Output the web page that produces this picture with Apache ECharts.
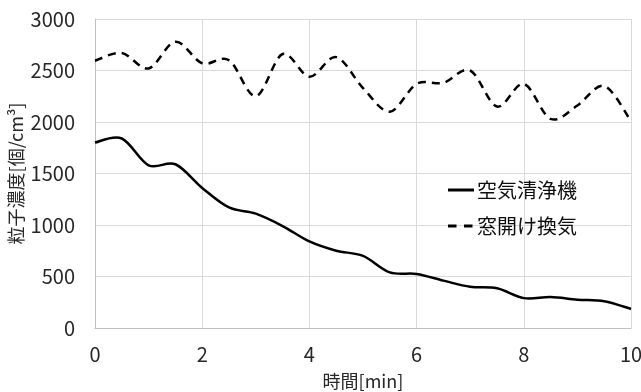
<!DOCTYPE html>
<html>
<head>
<meta charset="utf-8">
<script src="https://cdn.jsdelivr.net/npm/echarts@6/dist/echarts.min.js"></script>
<style>
html,body{margin:0;padding:0;background:#fff;}
#c{width:641px;height:392px;}
</style>
</head>
<body>
<div id="c"></div>
<script>
const times = [0,0.5,1,1.5,2,2.5,3,3.5,4,4.5,5,5.5,6,6.5,7,7.5,8,8.5,9,9.5,10];
const airPurifier = [1800,1840,1580,1590,1360,1170,1110,990,840,750,700,540,525,460,400,385,290,300,275,260,185];
const windowVent = [2595,2670,2520,2780,2570,2600,2250,2660,2440,2630,2330,2100,2370,2380,2500,2150,2370,2030,2160,2350,2010];
const seriesNames = ['空気清浄機','窓開け換気'];
const xTitle = '時間[min]';
const yTitle = '粒子濃度[個/cm³]';

const font = "'Noto Sans CJK JP', sans-serif";
const chart = echarts.init(document.getElementById('c'), null, {renderer:'canvas'});
const pair = arr => times.map((t,i)=>[t,arr[i]]);

// Smoothed (Catmull-Rom style, like a spreadsheet "smoothed line") path through the data,
// with every point placed by the chart's own coordinate system (api.coord).
function smoothRender(values, dash) {
  return function(params, api) {
    if (params.dataIndex !== 0) return null;
    const pts = times.map((t,i)=>api.coord([t, values[i]]));
    const n = pts.length;
    let d = 'M' + pts[0][0] + ',' + pts[0][1];
    for (let i = 0; i < n - 1; i++) {
      const p0 = pts[i-1] || pts[i], p1 = pts[i], p2 = pts[i+1], p3 = pts[i+2] || pts[i+1];
      const c1x = p1[0] + (p2[0]-p0[0])/6, c1y = p1[1] + (p2[1]-p0[1])/6;
      const c2x = p2[0] - (p3[0]-p1[0])/6, c2y = p2[1] - (p3[1]-p1[1])/6;
      d += ' C' + c1x + ',' + c1y + ' ' + c2x + ',' + c2y + ' ' + p2[0] + ',' + p2[1];
    }
    return {
      type:'path',
      shape:{pathData:d},
      style:{fill:'none', stroke:'#000', lineWidth:2.5, lineDash:dash, lineCap:'butt', lineJoin:'round'}
    };
  };
}

chart.setOption({
  animation:false,
  backgroundColor:'#fff',
  textStyle:{fontFamily:font},
  grid:{left:95,right:10,top:19,bottom:64,outerBoundsMode:'none',containLabel:false},
  legend:{
    orient:'vertical', left:443, top:175, itemWidth:26, itemHeight:3, itemGap:16,
    textStyle:{fontFamily:font,fontSize:20,color:'#0d0d0d',padding:[0,0,0,-2]},
    itemStyle:{borderWidth:0},
    data:[
      {name:seriesNames[0], icon:'path://M0,0H26V3H0Z'},
      {name:seriesNames[1], icon:'path://M0,0H8.5V3H0Z M16,0H24.5V3H16Z M26,0H26V3H26Z'}
    ]
  },
  xAxis:{
    type:'value', min:0, max:10, interval:2,
    name:xTitle, nameLocation:'middle', nameGap:44, nameMoveOverlap:false,
    nameTextStyle:{fontFamily:font,fontSize:18,color:'#262626'},
    axisLine:{show:true,lineStyle:{color:'#bfbfbf',width:1}},
    axisTick:{show:false},
    axisLabel:{fontFamily:font,fontSize:20,color:'#262626',margin:16},
    splitLine:{show:true,lineStyle:{color:'#d9d9d9',width:1}}
  },
  yAxis:{
    type:'value', min:0, max:3000, interval:500,
    name:yTitle, nameLocation:'middle', nameGap:70, nameRotate:90, nameMoveOverlap:false,
    nameTextStyle:{fontFamily:font,fontSize:18,color:'#262626'},
    axisLine:{show:true,lineStyle:{color:'#bfbfbf',width:1}},
    axisTick:{show:false},
    axisLabel:{fontFamily:font,fontSize:20,color:'#262626',margin:20,formatter:v=>String(v)},
    splitLine:{show:true,lineStyle:{color:'#d9d9d9',width:1}}
  },
  series:[
    {name:seriesNames[0],type:'custom',data:pair(airPurifier),renderItem:smoothRender(airPurifier,null),
     itemStyle:{color:'#000'},encode:{x:0,y:1}},
    {name:seriesNames[1],type:'custom',data:pair(windowVent),renderItem:smoothRender(windowVent,[8,6]),
     itemStyle:{color:'#000'},encode:{x:0,y:1}}
  ]
});
</script>
</body>
</html>
